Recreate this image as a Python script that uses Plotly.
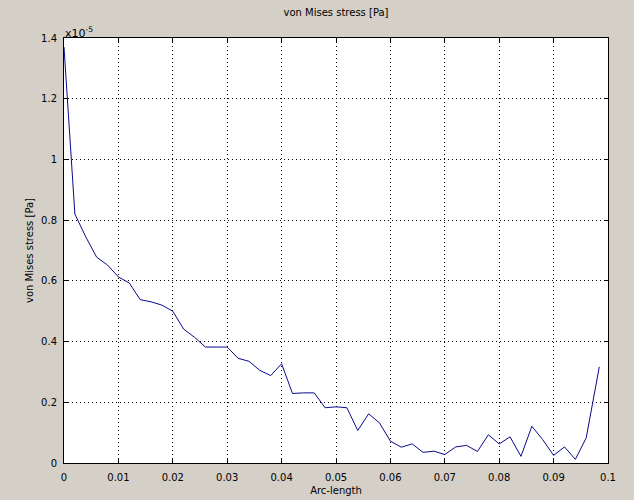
import plotly.graph_objects as go

arc_length = [0.0, 0.002, 0.004, 0.006, 0.008, 0.010, 0.012, 0.014, 0.016, 0.018,
              0.020, 0.022, 0.024, 0.026, 0.028, 0.030, 0.032, 0.034, 0.036, 0.038,
              0.040, 0.042, 0.044, 0.046, 0.048, 0.050, 0.052, 0.054, 0.056, 0.058,
              0.060, 0.062, 0.064, 0.066, 0.068, 0.070, 0.072, 0.074, 0.076, 0.078,
              0.080, 0.082, 0.084, 0.086, 0.088, 0.090, 0.092, 0.094, 0.096, 0.0984]
# von Mises stress in units of 1e-5 Pa
stress = [1.37, 0.82, 0.745, 0.678, 0.652, 0.613, 0.593, 0.538, 0.531, 0.520,
          0.500, 0.441, 0.414, 0.382, 0.382, 0.382, 0.345, 0.335, 0.305, 0.288,
          0.327, 0.229, 0.231, 0.231, 0.182, 0.185, 0.182, 0.107, 0.162, 0.132,
          0.072, 0.052, 0.063, 0.035, 0.039, 0.028, 0.053, 0.058, 0.038, 0.093,
          0.063, 0.086, 0.022, 0.121, 0.077, 0.025, 0.053, 0.012, 0.083, 0.317]

x_ticks = [0, 0.01, 0.02, 0.03, 0.04, 0.05, 0.06, 0.07, 0.08, 0.09, 0.1]
x_labels = ["0", "0.01", "0.02", "0.03", "0.04", "0.05", "0.06", "0.07", "0.08", "0.09", "0.1"]
y_ticks = [0, 0.2, 0.4, 0.6, 0.8, 1.0, 1.2, 1.4]
y_labels = ["0", "0.2", "0.4", "0.6", "0.8", "1", "1.2", "1.4"]

font = dict(family="DejaVu Sans, Tahoma, sans-serif", size=10, color="black")

fig = go.Figure()
fig.add_trace(go.Scatter(x=arc_length, y=stress, mode="lines",
                         line=dict(color="#0a0a8c", width=1), showlegend=False))

axis_common = dict(showline=True, linecolor="black", linewidth=1, mirror="ticks",
                   ticks="inside", ticklen=4, tickcolor="black",
                   showgrid=True, gridcolor="black", gridwidth=1, griddash="1px,3px",
                   zeroline=False, tickfont=font, automargin=False)

fig.update_xaxes(range=[0, 0.1], tickvals=x_ticks, ticktext=x_labels, ticklabelstandoff=5,
                 title=dict(text="Arc-length", font=font, standoff=4), **axis_common)
fig.update_yaxes(range=[0, 1.4], tickvals=y_ticks, ticktext=y_labels, ticklabelstandoff=4,
                 title=dict(text="von Mises stress [Pa]", font=font, standoff=5), **axis_common)

fig.update_layout(
    width=634, height=500,
    margin=dict(l=64, r=26, t=38, b=37),
    paper_bgcolor="#d4d0c8", plot_bgcolor="white",
    font=font,
    title=dict(text="von Mises stress [Pa]", font=font, x=0.5, xanchor="center",
               y=1 - 12.5 / 500, yanchor="middle", xref="paper"),
    annotations=[dict(text="x10<sup>-5</sup>", xref="paper", yref="paper", x=0, y=1,
                      xanchor="left", yanchor="bottom", showarrow=False,
                      font=dict(family=font["family"], size=11, color="black"),
                      xshift=-1, yshift=-4)],
)

fig.write_html("out.html", config={"displayModeBar": False},
               post_script="document.body.style.margin='0';")
